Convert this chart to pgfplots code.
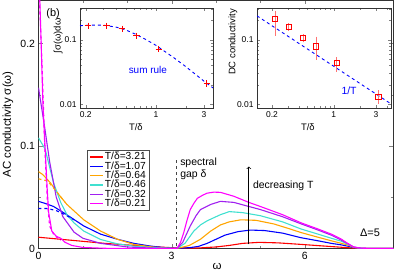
\documentclass[border=0pt]{standalone}
\usepackage{fontspec}
\setmainfont{Liberation Sans}
\usepackage{pgfplots}
\pgfplotsset{compat=1.18}
\definecolor{cred}{RGB}{255,0,0}
\definecolor{cblue}{RGB}{0,0,255}
\definecolor{corange}{RGB}{255,165,0}
\definecolor{ccyan}{RGB}{64,224,208}
\definecolor{cpurple}{RGB}{160,32,240}
\definecolor{cmag}{RGB}{255,0,255}
\definecolor{cgap}{RGB}{70,70,70}
\pgfplotsset{
  myinsetstyle/.style={
    scale only axis, height=100bp,
    ymin=0.0088, ymax=0.31,
    xtick={0.2,1,3}, xticklabels={0.2,1,3},
    ytick={0.01,0.1}, yticklabels={0.01,0.1},
    minor xtick={0.3,0.4,0.5,0.6,0.7,0.8,0.9,2,4},
    minor ytick={0.02,0.03,0.04,0.05,0.06,0.07,0.08,0.09,0.2,0.3},
    tick label style={font=\fontsize{8.5}{9}\selectfont},
    label style={font=\fontsize{9.5}{10}\selectfont},
    axis background/.style={fill=white},
    axis line style={black!80},
    major tick length=3.5bp, minor tick length=2bp,
    xlabel={T/δ},
    /pgf/number format/assume math mode=true,
  }
}
\begin{document}
\begin{tikzpicture}
\begin{axis}[
  at={(0,0)}, anchor=south west,
  scale only axis, width=355bp, height=248.5bp,
  xmin=0, xmax=8.0, ymin=0, ymax=0.2425,
  xtick={0,3,6}, xticklabels={0,3,6}, minor x tick num=2,
  ytick={0,0.1,0.2}, yticklabels={0,0.1,0.2}, minor y tick num=1,
  tick label style={font=\fontsize{10.5}{12}\selectfont},
  label style={font=\fontsize{11.5}{13}\selectfont},
  /pgf/number format/assume math mode=true,
  axis line style={black!80},
  xlabel={ω}, ylabel={AC conductivity σ(ω)},
  xlabel style={at={(axis description cs:0.503,-0.074)}, anchor=center},
  ylabel style={at={(axis description cs:-0.086,0.5)}, anchor=center},
  legend style={at={(axis description cs:0.137,0.397)}, anchor=north west,
    font=\fontsize{10.3}{10.6}\selectfont, draw=black!70, inner xsep=2.5pt, inner ysep=1.5pt,
    row sep=-1.6pt, nodes={inner sep=1pt}},
  legend cell align=left,
  legend image code/.code={\draw[#1] (0bp,0bp) -- (13bp,0bp);},
  every axis plot/.append style={line width=1.1pt},
]
\addplot[cred] coordinates {(0,0.011)(0.25,0.010)(0.5,0.009)(1,0.007)(1.5,0.005)(2,0.0035)(2.5,0.002)(3,0.0008)(3.12,0.0005)(3.6,0.0005)(4.0,0.0015)(4.3,0.003)(4.6,0.005)(4.97,0.006)(5.4,0.0055)(5.92,0.004)(6.4,0.0025)(6.83,0.0012)(7.1,0.0004)(7.3,0)(8,0)};
\addlegendentry{T/δ=3.21}
\addplot[cblue] coordinates {(0,0.046)(0.15,0.044)(0.34,0.041)(0.6,0.034)(1.02,0.022)(1.4,0.014)(1.78,0.009)(2.15,0.005)(2.5,0.0025)(2.8,0.001)(3.12,0.0002)(3.4,0.0008)(3.6,0.002)(3.8,0.005)(4.0,0.009)(4.2,0.013)(4.5,0.0165)(4.78,0.018)(5.1,0.0175)(5.5,0.015)(5.92,0.0105)(6.3,0.0075)(6.6,0.005)(6.83,0.0035)(7.0,0.002)(7.1,0.0008)(7.3,0)(8,0)};
\addlegendentry{T/δ=1.07}
\addplot[corange] coordinates {(0,0.075)(0.1,0.072)(0.27,0.064)(0.45,0.053)(0.64,0.043)(1.02,0.028)(1.4,0.017)(1.78,0.009)(2.15,0.004)(2.5,0.0018)(2.8,0.0006)(3.12,0)(3.4,0.003)(3.65,0.009)(3.88,0.017)(4.1,0.023)(4.3,0.026)(4.56,0.028)(4.9,0.0275)(5.3,0.024)(5.6,0.02)(5.92,0.0155)(6.3,0.011)(6.6,0.0075)(6.83,0.005)(7.0,0.003)(7.1,0.001)(7.3,0)(8,0)};
\addlegendentry{T/δ=0.64}
\addplot[ccyan] coordinates {(0,0.108)(0.15,0.097)(0.34,0.064)(0.5,0.045)(0.64,0.033)(0.8,0.025)(1.02,0.017)(1.4,0.0088)(1.78,0.0045)(2.15,0.0023)(2.6,0.0008)(3.12,0)(3.3,0.005)(3.5,0.017)(3.65,0.023)(3.8,0.027)(4.1,0.033)(4.3,0.036)(4.6,0.035)(5.0,0.032)(5.5,0.026)(5.92,0.019)(6.3,0.014)(6.6,0.010)(6.83,0.007)(7.0,0.0035)(7.1,0.0013)(7.3,0)(8,0)};
\addlegendentry{T/δ=0.46}
\addplot[cpurple] coordinates {(0,0.157)(0.14,0.118)(0.25,0.085)(0.4,0.05)(0.55,0.031)(0.8,0.016)(1.0,0.010)(1.4,0.005)(2,0.0015)(2.5,0.0005)(3.12,0)(3.25,0.006)(3.42,0.022)(3.55,0.032)(3.65,0.038)(3.88,0.043)(4.1,0.046)(4.4,0.045)(4.74,0.041)(5.0,0.038)(5.5,0.031)(5.92,0.024)(6.3,0.018)(6.6,0.013)(6.83,0.008)(7.0,0.004)(7.1,0.0015)(7.25,0.0004)(7.5,0)(8,0)};
\addlegendentry{T/δ=0.32}
\addplot[cmag] coordinates {(0,0.32)(0.03,0.243)(0.06,0.2)(0.1,0.14)(0.15,0.097)(0.2,0.055)(0.23,0.035)(0.3,0.017)(0.4,0.012)(0.5,0.010)(0.6,0.006)(0.75,0.003)(1,0.001)(1.5,0.0002)(3.12,0)(3.2,0.006)(3.27,0.015)(3.35,0.028)(3.42,0.038)(3.5,0.044)(3.58,0.049)(3.7,0.052)(3.8,0.054)(3.95,0.055)(4.1,0.0548)(4.4,0.051)(4.74,0.045)(5.0,0.041)(5.5,0.033)(5.92,0.025)(6.3,0.019)(6.6,0.014)(6.83,0.009)(7.0,0.004)(7.1,0.0015)(7.25,0.0004)(7.5,0)(8,0)};
\addlegendentry{T/δ=0.21}
% dashed low-frequency counterparts
\addplot[cblue, dashed, forget plot] coordinates {(0,0.039)(0.2,0.039)(0.4,0.037)(0.6,0.033)(0.8,0.028)};
\addplot[corange, dashed, forget plot] coordinates {(0,0.068)(0.2,0.066)(0.4,0.056)(0.6,0.045)};
\addplot[cmag, dashed, forget plot] coordinates {(0.02,0.243)(0.08,0.18)(0.14,0.1)(0.2,0.045)(0.25,0.022)(0.35,0.013)(0.5,0.008)};
% spectral gap marker
\addplot[cgap, dashed, line width=1.3pt, forget plot] coordinates {(3.11,0.002)(3.11,0.088)};
% arrow
\addplot[black, ->, line width=0.7pt, forget plot] coordinates {(4.74,0.004)(4.74,0.080)};
\node[anchor=west, align=left, font=\fontsize{10.5}{11.5}\selectfont, inner sep=0pt] at (axis cs:3.19,0.0776) {spectral\\gap δ};
\node[anchor=west, font=\fontsize{10.5}{12}\selectfont, inner sep=0pt] at (axis cs:4.83,0.061) {decreasing T};
\node[font=\fontsize{11}{12}\selectfont] at (axis cs:7.47,0.0151) {Δ=5};
\node[font=\fontsize{11}{12}\selectfont] at (axis cs:0.33,0.229) {(b)};
\end{axis}

% left inset
\begin{loglogaxis}[myinsetstyle, at={(41.5bp,140.5bp)}, anchor=south west, width=133bp,
  xmin=0.175, xmax=3.7,
  ylabel={∫σ(ω)dω},
  ylabel style={at={(axis description cs:-0.165,0.72)}, anchor=center},
  xlabel style={at={(axis description cs:0.42,-0.195)}, anchor=center},
]
\addplot[cblue, dashed, line width=0.9pt] coordinates {(0.175,0.165)(0.21,0.168)(0.3,0.168)(0.4,0.157)(0.5,0.142)(0.64,0.12)(0.8,0.1)(1.0,0.082)(1.5,0.053)(2,0.038)(3,0.023)(3.7,0.018)};
\addplot[cred, only marks, mark=+, mark size=3.2bp, line width=0.9pt] coordinates {(0.21,0.165)(0.32,0.165)(0.46,0.148)(0.64,0.115)(1.07,0.072)(3.21,0.021)};
\node[text=cblue, font=\fontsize{10}{11}\selectfont] at (axis cs:0.83,0.034) {sum rule};
\end{loglogaxis}

% right inset
\begin{loglogaxis}[myinsetstyle, at={(218.5bp,140.5bp)}, anchor=south west, width=134bp,
  xmin=0.135, xmax=4.45,
  ylabel={DC conductivity},
  ylabel style={at={(axis description cs:-0.18,0.66)}, anchor=center},
  xlabel style={at={(axis description cs:0.38,-0.19)}, anchor=center},
]
\addplot[cblue, dashed, line width=0.9pt] coordinates {(0.135,0.234)(4.45,0.0102)};
\addplot[cred, only marks, mark=square, mark size=2.6bp, line width=0.8pt,
  error bars/.cd, y dir=both, y explicit,
  error bar style={red!55, line width=0.8pt},
  error mark options={red!55, mark size=2.5bp, line width=0.8pt}]
  coordinates {
  (0.216,0.21) += (0,0.048) -= (0,0.083)
  (0.31,0.157) += (0,0.008) -= (0,0.008)
  (0.45,0.106) += (0,0.006) -= (0,0.006)
  (0.63,0.079) += (0,0.023) -= (0,0.025)
  (1.08,0.0437) += (0,0.0055) -= (0,0.009)
  (3.21,0.013) += (0,0.0021) -= (0,0.0018)
  };
\node[text=cblue, font=\fontsize{10.5}{11}\selectfont] at (axis cs:1.49,0.0164) {1/T};
\end{loglogaxis}
\pgfresetboundingbox
\path[use as bounding box] (-38.5bp,-25.5bp) rectangle (356.5bp,248.5bp);
\end{tikzpicture}
\end{document}
